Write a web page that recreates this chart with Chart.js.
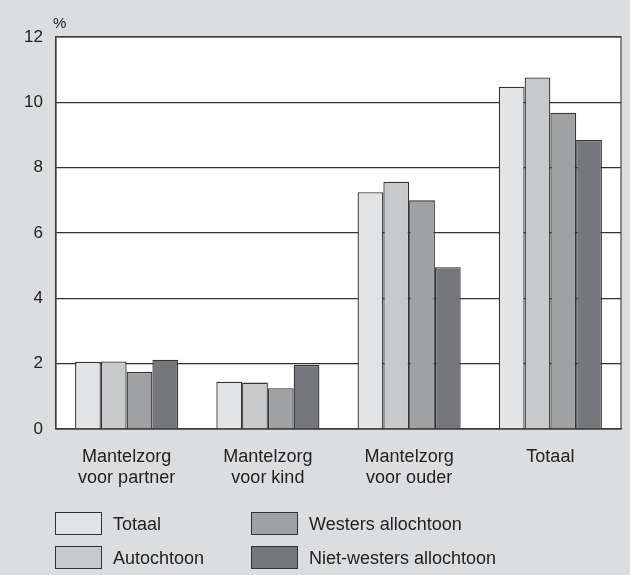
<!DOCTYPE html>
<html>
<head>
<meta charset="utf-8">
<script src="https://cdn.jsdelivr.net/npm/chart.js@4.4.1/dist/chart.umd.min.js"></script>
<style>
  html, body { margin: 0; padding: 0; background: #dcdddf; }
  #wrap { width: 630px; height: 575px; }
</style>
</head>
<body>
<div id="wrap"><canvas id="chart" width="630" height="575"></canvas></div>
<script>
// categorieën en reeksen
const categories = [
    ['Mantelzorg', 'voor partner'],
    ['Mantelzorg', 'voor kind'],
    ['Mantelzorg', 'voor ouder'],
    'Totaal'
];
const seriesNames = ['Totaal', 'Autochtoon', 'Westers allochtoon', 'Niet-westers allochtoon'];
const totaal = [2.06, 1.45, 7.25, 10.48];
const autochtoon = [2.07, 1.42, 7.57, 10.76];
const westers = [1.75, 1.25, 7.0, 9.68];
const nietWesters = [2.12, 1.96, 4.95, 8.85];
const yTicks = [0, 2, 4, 6, 8, 10, 12];

const barColors = ['#e2e3e5', '#c8c9cb', '#a0a1a3', '#76777a'];
const fontFamily = '"Liberation Sans", Arial, Helvetica, sans-serif';

// achtergrond en kader
const framePlugin = {
    id: 'frame',
    beforeDraw(chart) {
        const { ctx, chartArea: a } = chart;
        ctx.save();
        ctx.fillStyle = '#dcdddf';
        ctx.fillRect(0, 0, chart.width, chart.height);
        ctx.fillStyle = '#ffffff';
        ctx.fillRect(a.left, a.top, a.right - a.left, a.bottom - a.top);
        ctx.restore();
    },
    afterDraw(chart) {
        const { ctx, chartArea: a } = chart;
        ctx.save();
        ctx.strokeStyle = '#444';
        ctx.lineWidth = 1.2;
        ctx.strokeRect(a.left, a.top, a.right - a.left, a.bottom - a.top);
        // eenheid
        ctx.fillStyle = '#222';
        ctx.font = '15px ' + fontFamily;
        ctx.textAlign = 'left';
        ctx.textBaseline = 'alphabetic';
        ctx.fillText('%', a.left - 3, a.top - 9);
        ctx.restore();
    }
};

// legenda in twee kolommen
const legendPlugin = {
    id: 'customLegend',
    afterDraw(chart) {
        const { ctx } = chart;
        const cols = [55, 251];
        const rows = [512, 546];
        ctx.save();
        ctx.font = '18px ' + fontFamily;
        ctx.textBaseline = 'middle';
        ctx.textAlign = 'left';
        chart.data.datasets.forEach((ds, i) => {
            const x = cols[Math.floor(i / 2)];
            const y = rows[i % 2];
            ctx.fillStyle = ds.backgroundColor;
            ctx.fillRect(x, y, 46, 22);
            ctx.strokeStyle = '#333';
            ctx.lineWidth = 1;
            ctx.strokeRect(x + 0.5, y + 0.5, 46, 22);
            ctx.fillStyle = '#222';
            ctx.fillText(ds.label, x + 58, y + 13);
        });
        ctx.restore();
    }
};

const ctx = document.getElementById('chart').getContext('2d');
const seriesData = [totaal, autochtoon, westers, nietWesters];

new Chart(ctx, {
    type: 'bar',
    data: {
        labels: categories,
        datasets: seriesNames.map((name, i) => ({
            label: name,
            data: seriesData[i],
            backgroundColor: barColors[i],
            borderColor: '#333',
            borderWidth: 1.3,
            categoryPercentage: 0.73,
            barPercentage: 1.0
        }))
    },
    options: {
        responsive: false,
        animation: false,
        layout: { padding: { left: 0, top: 37, right: 9, bottom: 86 } },
        plugins: {
            legend: { display: false },
            tooltip: { enabled: false }
        },
        scales: {
            x: {
                grid: { display: false },
                border: { display: true, color: '#333', width: 1.2 },
                ticks: {
                    color: '#222',
                    font: { family: fontFamily, size: 18, lineHeight: 1.2 },
                    padding: 9,
                    maxRotation: 0
                },
                afterFit(scale) { scale.height = 60; }
            },
            y: {
                min: 0,
                max: 12,
                afterBuildTicks(scale) {
                    scale.ticks = yTicks.map(v => ({ value: v }));
                },
                grid: { color: '#333', lineWidth: 1.2, drawTicks: false },
                border: { display: true, color: '#333', width: 1.2 },
                ticks: {
                    color: '#222',
                    font: { family: fontFamily, size: 17 },
                    padding: 13
                },
                afterFit(scale) { scale.width = 56; }
            }
        }
    },
    plugins: [framePlugin, legendPlugin]
});
</script>
</body>
</html>
